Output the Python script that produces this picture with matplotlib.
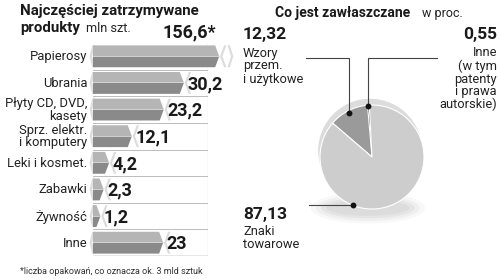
import matplotlib
matplotlib.use("Agg")
import matplotlib.pyplot as plt
from matplotlib.patches import Polygon, Circle, Ellipse

plt.rcParams['font.family'] = ['Roboto', 'DejaVu Sans']

# ---- data ----
categories = ["Papierosy", "Ubrania", "Płyty CD, DVD,\nkasety", "Sprz. elektr.\ni komputery",
              "Leki i kosmet.", "Zabawki", "Żywność", "Inne"]
values = [156.6, 30.2, 23.2, 12.1, 4.2, 2.3, 1.2, 23]
value_labels = ["156,6*", "30,2", "23,2", "12,1", "4,2", "2,3", "1,2", "23"]
bar_cap = 42.5  # axis break for the long bar

pie_labels = ["Inne", "Wzory przem. i użytkowe", "Znaki towarowe"]
pie_values = [0.55, 12.32, 87.13]
pie_colors = ["#3a3a3a", "#9a9a9a", "#cdcdcd"]

W, H = 500, 279
fig = plt.figure(figsize=(W / 100, H / 100), dpi=100)
fig.patch.set_facecolor("white")


def fx(px):
    return px / W


def fy(py):
    return 1 - py / H


# ---- bar chart ----
axb = fig.add_axes([fx(93), fy(256), fx(208) - fx(93), fy(43) - fy(256)])
axb.set_xlim(0, 40)
axb.set_ylim(7.5, -0.5)
axb.axis("off")

hh = 0.41   # half bar height (rows)
a = 1.4     # arrow point length
for i, (v, lab) in enumerate(zip(values, value_labels)):
    xe = min(v, bar_cap)
    top, bot = i - hh, i + hh
    # light tail at the left
    axb.add_patch(Polygon([(-0.3, top), (0.9, top), (-0.3, i), (0.9, bot), (-0.3, bot), (-1.2, i)],
                          closed=True, fc="#dedede", ec="none", clip_on=False, zorder=2))
    # upper (lighter) half
    axb.add_patch(Polygon([(0, top), (xe, top), (xe + a, i), (0, i)],
                          closed=True, fc="#b5b5b5", ec="none", clip_on=False, zorder=3))
    # lower (darker) half
    axb.add_patch(Polygon([(0, i), (xe + a, i), (xe, bot), (0, bot)],
                          closed=True, fc="#8a8a8a", ec="none", clip_on=False, zorder=3))
    # thin highlight on the middle
    axb.plot([0, xe + a * 0.9], [i - 0.02, i - 0.02], color="#d8d8d8", lw=0.6, zorder=4, clip_on=False)
    # light chevron after the bar
    c0 = xe + a + 0.3
    axb.add_patch(Polygon([(c0 + 1.4, top), (c0 + 2.2, top), (c0 + 0.8, i), (c0 + 2.2, bot),
                           (c0 + 1.4, bot), (c0, i)],
                          closed=True, fc="#dcdcdc", ec="none", clip_on=False, zorder=2))
    if v > bar_cap:
        axb.add_patch(Polygon([(c0 + 2.6, top), (c0 + 3.4, top), (c0 + 4.6, i), (c0 + 3.4, bot),
                               (c0 + 2.6, bot), (c0 + 3.8, i)],
                              closed=True, fc="#dcdcdc", ec="none", clip_on=False, zorder=2))
        axb.text(bar_cap + 0.3, i - 0.55, lab, ha="right", va="bottom", fontsize=13,
                 fontweight="bold", color="#1a1a1a")
    else:
        axb.text(xe + 2.6, i + 0.05, lab, ha="left", va="center", fontsize=13,
                 fontweight="bold", color="#1a1a1a", zorder=5)
    # category label
    axb.text(-2.0, i + 0.02, categories[i], ha="right", va="center", fontsize=9.4,
             color="#222222", linespacing=0.95, clip_on=False)
    # row separator
    if i < len(values) - 1:
        axb.plot([0, 40], [i + 0.5, i + 0.5], color="#bcbcbc", lw=0.7, zorder=1)

axb.plot([40, 40], [-0.5, 7.5], color="#9a9a9a", lw=0.8, zorder=1)
axb.plot([0, 40], [7.5, 7.5], color="#444444", lw=0.9, zorder=1)

# titles (left)
fig.text(fx(20), fy(11), "Najczęściej zatrzymywane", fontsize=10.8, fontweight="bold",
         ha="left", va="center", color="#1a1a1a")
fig.text(fx(20), fy(28), "produkty", fontsize=10.8, fontweight="bold",
         ha="left", va="center", color="#1a1a1a")
fig.text(fx(86), fy(29), "mln szt.", fontsize=9.2, ha="left", va="center", color="#222222")
fig.text(fx(20), fy(271), "*liczba opakowań, co oznacza ok. 3 mld sztuk", fontsize=6.5,
         ha="left", va="center", color="#333333")

# ---- pie chart ----
cx, cy, R = 372, 157, 65
axp = fig.add_axes([fx(cx - R), fy(cy + R), 2 * R / W, 2 * R / H])
axp.set_xlim(-1, 1)
axp.set_ylim(-1, 1)
axp.set_aspect("equal")
axp.axis("off")

# soft shadow
for w, h, al in [(2.2, 0.6, 0.05), (2.0, 0.5, 0.07), (1.8, 0.4, 0.08), (1.6, 0.3, 0.08)]:
    axp.add_patch(Ellipse((-0.08, -0.98), w, h, fc="#7a7a7a", ec="none", alpha=al,
                          clip_on=False, zorder=0))
# rim (3D edge)
axp.add_patch(Circle((-0.035, 0.12), 1.0, fc="#dcdcdc", ec="none", clip_on=False, zorder=1))

wedges, _ = axp.pie(pie_values, colors=pie_colors, startangle=93, counterclock=True,
                    radius=1.0, wedgeprops=dict(edgecolor="white", linewidth=0.8))
for w_ in wedges:
    w_.set_zorder(2)
    w_.set_clip_on(False)
wedges[0].set_edgecolor("#3a3a3a")


def px2d(px, py):
    return (px - cx) / R, (cy - py) / R


# leader lines
def leader(points, dot):
    xs, ys = zip(*[px2d(*p) for p in points])
    axp.plot(xs, ys, color="#444444", lw=0.8, clip_on=False, zorder=4)
    dx, dy = px2d(*dot)
    axp.plot([dx], [dy], "o", color="#111111", ms=3.2, clip_on=False, zorder=5)


leader([(290, 33), (343, 33), (343, 102)], (343, 102))
leader([(453, 33), (367, 33), (367, 93)], (367, 93))
leader([(293, 217), (348, 217)], (348, 217))

# pie titles / labels
fig.text(fx(275), fy(13), "Co jest zawłaszczane", fontsize=10, fontweight="bold",
         ha="left", va="center", color="#1a1a1a")
fig.text(fx(422), fy(14), "w proc.", fontsize=9, ha="left", va="center", color="#222222")

fig.text(fx(243), fy(35), "12,32", fontsize=12.5, fontweight="bold", ha="left", va="center",
         color="#1a1a1a")
fig.text(fx(243), fy(66), "Wzory\nprzem.\ni użytkowe", fontsize=9.3, ha="left", va="center",
         color="#222222", linespacing=1.0)

fig.text(fx(497), fy(35), "0,55", fontsize=12.5, fontweight="bold", ha="right", va="center",
         color="#1a1a1a")
fig.text(fx(497), fy(79), "Inne\n(w tym\npatenty\ni prawa\nautorskie)", fontsize=9.3,
         ha="right", va="center", color="#222222", linespacing=0.98)

fig.text(fx(243), fy(215), "87,13", fontsize=12.5, fontweight="bold", ha="left", va="center",
         color="#1a1a1a")
fig.text(fx(243), fy(238), "Znaki\ntowarowe", fontsize=9.3, ha="left", va="center",
         color="#222222", linespacing=1.0)

fig.savefig("out.png", dpi=100, facecolor="white")
